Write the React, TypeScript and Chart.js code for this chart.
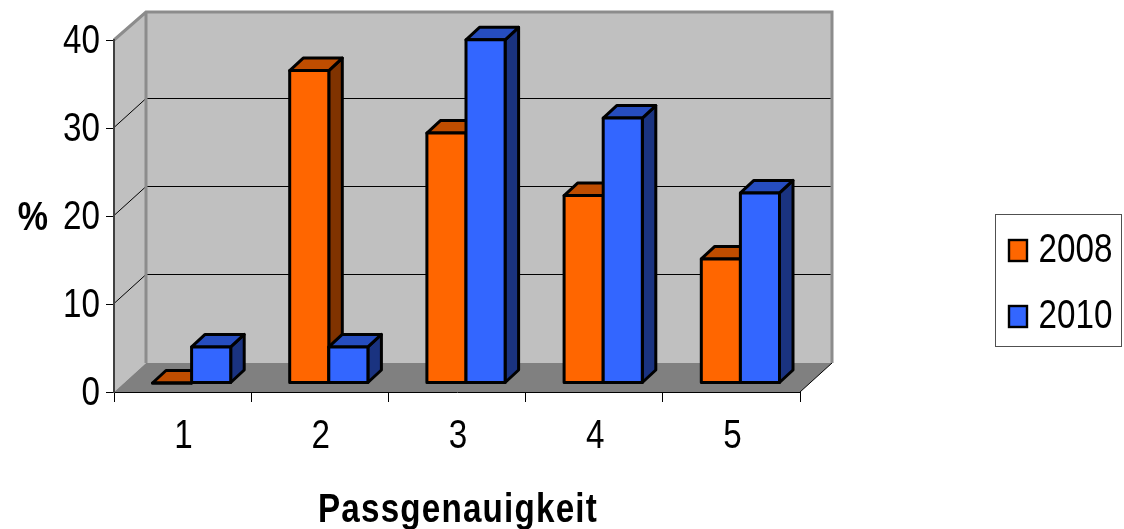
import React, { useEffect, useRef } from "react";
import { Chart, registerables } from "chart.js";

Chart.register(...registerables);

const categories = ["1", "2", "3", "4", "5"];
const series2008 = [0, 35.5, 28.4, 21.3, 14.1];
const series2010 = [4.1, 4.1, 39, 30.1, 21.6];
const yTicks = [0, 10, 20, 30, 40];

const FONT = "'Liberation Sans', Arial, sans-serif";
const WALL = "#C0C0C0";
const FLOOR = "#808080";
const EDGE = "#8C8C8C";
const SQUEEZE = 0.83;

// Depth of the plot box and of each column, in pixels.
const BOX_DX = 32;
const BOX_DY = -29;
const BAR_SHIFT_X = 9;
const BAR_SHIFT_Y = -9;
const BAR_DX = 13.5;
const BAR_DY = -12.5;

function poly(ctx: CanvasRenderingContext2D, pts: number[][], fill?: string) {
  ctx.beginPath();
  pts.forEach(([x, y], i) => (i ? ctx.lineTo(x, y) : ctx.moveTo(x, y)));
  ctx.closePath();
  if (fill) {
    ctx.fillStyle = fill;
    ctx.fill();
  }
}

// Horizontally condensed text; no narrow face of the sans is available.
function narrowText(
  ctx: CanvasRenderingContext2D,
  text: string,
  x: number,
  y: number,
  font: string,
  align: CanvasTextAlign = "center",
  tracking = 0,
) {
  ctx.save();
  ctx.translate(x, y);
  ctx.scale(SQUEEZE, 1);
  ctx.font = font;
  ctx.fillStyle = "#000";
  ctx.textAlign = align;
  ctx.textBaseline = "alphabetic";
  (ctx as any).letterSpacing = `${tracking}px`;
  ctx.fillText(text, 0, 0);
  ctx.restore();
}

const box3d = {
  id: "box3d",
  beforeDraw(chart: any) {
    const { ctx, chartArea: a, scales } = chart;
    const { left: l, right: r, top: t, bottom: b } = a;
    const dx = BOX_DX;
    const dy = BOX_DY;
    ctx.save();
    poly(ctx, [[l + dx, t + dy], [r + dx, t + dy], [r + dx, b + dy], [l + dx, b + dy]], WALL);
    poly(ctx, [[l, t], [l + dx, t + dy], [l + dx, b + dy], [l, b]], WALL);
    poly(ctx, [[l, b], [l + dx, b + dy], [r + dx, b + dy], [r, b]], FLOOR);

    // Gridlines run along the side wall and across the back wall.
    ctx.strokeStyle = "#000";
    ctx.lineWidth = 1;
    yTicks.slice(1, -1).forEach((v) => {
      const y = Math.round(scales.y.getPixelForValue(v)) - 0.5;
      ctx.beginPath();
      ctx.moveTo(l, y);
      ctx.lineTo(l + dx, y + dy);
      ctx.lineTo(r + dx, y + dy);
      ctx.stroke();
    });

    ctx.beginPath();
    ctx.moveTo(r, b);
    ctx.lineTo(r + dx, b + dy);
    ctx.stroke();

    ctx.strokeStyle = EDGE;
    ctx.lineWidth = 3;
    ctx.lineJoin = "miter";
    ctx.beginPath();
    ctx.moveTo(l, t);
    ctx.lineTo(l + dx, t + dy + 1);
    ctx.lineTo(r + dx, t + dy + 1);
    ctx.lineTo(r + dx, b + dy);
    ctx.moveTo(l + dx, t + dy + 1);
    ctx.lineTo(l + dx, b + dy);
    ctx.stroke();
    ctx.restore();
  },
  beforeDatasetsDraw(chart: any) {
    const { ctx } = chart;
    const shades = [
      { front: "#FF6600", top: "#BF4D00", side: "#803300" },
      { front: "#3366FF", top: "#264DBF", side: "#1A3380" },
    ];
    ctx.save();
    ctx.strokeStyle = "#000";
    ctx.lineWidth = 3;
    ctx.lineJoin = "round";
    categories.forEach((_, i) => {
      chart.data.datasets.forEach((_d: any, di: number) => {
        const el = chart.getDatasetMeta(di).data[i];
        const half = el.width / 2;
        const x0 = el.x - half + BAR_SHIFT_X;
        const x1 = el.x + half + BAR_SHIFT_X;
        const yTop = el.y + BAR_SHIFT_Y;
        const yBase = el.base + BAR_SHIFT_Y;
        const c = shades[di];
        const faces: [number[][], string][] = [
          [[[x1, yTop], [x1 + BAR_DX, yTop + BAR_DY], [x1 + BAR_DX, yBase + BAR_DY], [x1, yBase]], c.side],
          [[[x0, yTop], [x0 + BAR_DX, yTop + BAR_DY], [x1 + BAR_DX, yTop + BAR_DY], [x1, yTop]], c.top],
          [[[x0, yTop], [x1, yTop], [x1, yBase], [x0, yBase]], c.front],
        ];
        faces.forEach(([pts, fill]) => {
          poly(ctx, pts, fill);
          ctx.stroke();
        });
      });
    });
    ctx.restore();
    return false;
  },
  afterDraw(chart: any) {
    const { ctx, scales } = chart;
    const plain = `40px ${FONT}`;
    const bold = `bold 40px ${FONT}`;

    // Tick labels come from the scales and are set condensed.
    scales.y.ticks.forEach((tick: any, i: number) => {
      narrowText(ctx, String(tick.label), 100, scales.y.getPixelForTick(i) + 12.5, plain, "right");
    });
    scales.x.ticks.forEach((tick: any, i: number) => {
      narrowText(ctx, String(tick.label), scales.x.getPixelForTick(i) + 1, 448, plain);
    });

    // Axis captions, the lower one with wide tracking.
    narrowText(ctx, "%", 33, 230, `bold 41px ${FONT}`);
    narrowText(ctx, "Passgenauigkeit", 458, 521.5, bold, "center", 1.45);

    // Legend box on the right.
    const frame = { x: 995, y: 214, w: 126, h: 132 };
    const rows = [250.5, 316.5];
    ctx.save();
    ctx.strokeStyle = "#505050";
    ctx.lineWidth = 1;
    ctx.strokeRect(frame.x + 0.5, frame.y + 0.5, frame.w, frame.h);
    chart.data.datasets.forEach((d: any, i: number) => {
      const y = rows[i];
      ctx.fillStyle = d.backgroundColor;
      ctx.fillRect(1009, y - 10.5, 18, 21);
      ctx.strokeStyle = "#000";
      ctx.lineWidth = 2.4;
      ctx.strokeRect(1009, y - 10.5, 18, 21);
      narrowText(ctx, d.label, 1038.5, y + 11, plain, "left");
    });
    ctx.restore();
  },
};

export default function App() {
  const ref = useRef<HTMLCanvasElement>(null);

  useEffect(() => {
    const chart = new Chart(ref.current!, {
      type: "bar",
      data: {
        labels: categories,
        datasets: [
          { label: "2008", data: series2008, backgroundColor: "#FF6600" },
          { label: "2010", data: series2010, backgroundColor: "#3366FF" },
        ],
      },
      plugins: [box3d],
      options: {
        animation: false,
        responsive: false,
        layout: { padding: { left: 0, right: 324, top: 40, bottom: 0 } },
        datasets: { bar: { categoryPercentage: 0.57, barPercentage: 1 } },
        plugins: { legend: { display: false }, tooltip: { enabled: false } },
        scales: {
          x: {
            afterFit: (s: any) => {
              s.height = 137;
            },
            grid: {
              drawOnChartArea: false,
              offset: true,
              color: "#000",
              tickColor: "#000",
              tickLength: 10,
            },
            border: { display: true, color: "#000", width: 1 },
            ticks: { display: false, maxRotation: 0 },
          },
          y: {
            min: 0,
            max: 40,
            afterFit: (s: any) => {
              s.width = 114;
            },
            afterBuildTicks: (s: any) => {
              s.ticks = yTicks.map((value) => ({ value }));
            },
            grid: {
              drawOnChartArea: false,
              color: "#000",
              tickColor: "#000",
              tickLength: 8,
            },
            border: { display: true, color: "#404040", width: 2 },
            ticks: { display: false },
          },
        },
      },
    } as any);
    return () => chart.destroy();
  }, []);

  return (
    <div style={{ position: "fixed", left: 0, top: 0 }}>
      <canvas ref={ref} width={1124} height={529} style={{ display: "block" }} />
    </div>
  );
}
